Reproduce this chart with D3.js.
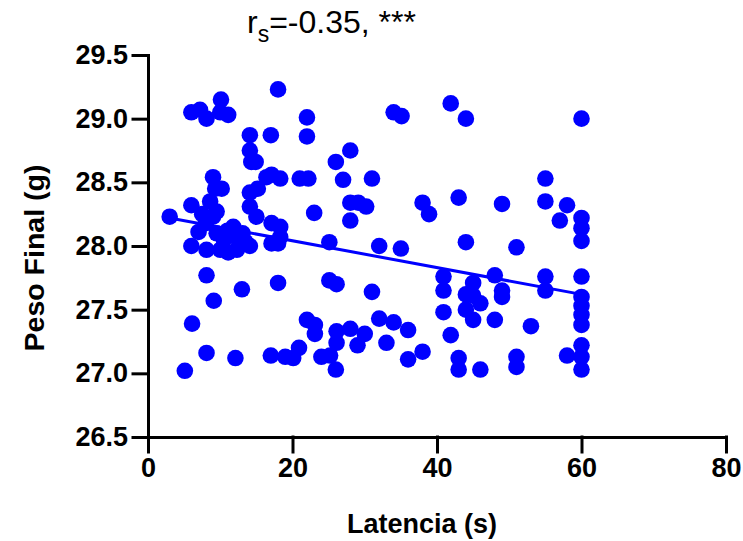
<!DOCTYPE html>
<html lang="en">
<head>
<meta charset="UTF-8">
<script src="https://d3js.org/d3.v7.min.js"></script>
<style>
    body { margin: 0; background: #fff; }
    svg { font-family: "Liberation Sans", Arial, sans-serif; }
    .axis path, .axis line { stroke: #000; stroke-width: 3px; stroke-linecap: square; }
    .axis text { font-size: 27px; font-weight: bold; fill: #000; }
</style>
</head>
<body>
<script>
// Latencia (s) vs Peso Final (g)
var latencia = [
    18.0, 10.1, 6.0, 7.2, 8.1, 11.1, 10.0, 14.1, 17.0, 14.1, 14.3, 14.9, 9.0, 10.2, 9.3,
    14.1, 15.2, 16.4, 17.1, 18.3, 21.0, 22.2, 6.0, 8.6, 14.1, 15.0, 3.0,
    7.0, 9.0, 11.8, 13.1, 17.1, 18.3, 17.1, 18.3, 6.0, 8.1, 10.0, 11.1, 12.3, 14.1, 18.0,
    8.0, 9.5, 10.5, 11.0, 12.5, 13.5, 7.5, 9.5,
    8.1, 13.0, 18.0, 9.1, 6.1, 8.1, 12.1, 17.0, 19.0, 20.1, 20.9, 5.1,
    22.0, 22.0, 28.0, 26.0, 27.0, 31.0, 34.0, 35.1, 41.9, 28.0, 29.1, 30.2, 23.0, 28.0,
    38.0, 38.9, 25.1, 32.0, 35.0, 25.1, 26.1, 31.0, 40.9, 40.9, 40.9, 22.0, 23.1, 23.1,
    26.1, 28.0, 30.0, 26.1, 29.0, 32.0, 34.0, 36.0, 33.0, 24.0, 25.2, 26.0, 36.0, 38.0, 41.9,
    44, 60, 55, 43, 49, 55, 58, 57, 60, 60, 60, 44, 51, 48, 55, 55, 60,
    45, 44, 45, 46, 44, 45, 49, 49, 48, 53, 60, 60, 60, 60, 60, 60, 60, 58,
    43, 43, 46, 51, 51
];
var peso = [
    29.23, 29.15, 29.05, 29.07, 29.0, 29.03, 29.05, 28.87, 28.87, 28.75, 28.66, 28.66, 28.54, 28.45, 28.45,
    28.42, 28.45, 28.54, 28.56, 28.53, 28.53, 28.53, 28.32, 28.35, 28.31, 28.23, 28.23,
    28.11, 28.23, 28.15, 28.1, 28.18, 28.15, 28.02, 28.07, 28.0, 27.97, 27.97, 27.95, 27.97, 28.0, 28.02,
    28.18, 28.1, 28.05, 28.12, 28.05, 28.03, 28.25, 28.27,
    27.77, 27.66, 27.71, 27.57, 27.39, 27.16, 27.12, 27.14, 27.13, 27.12, 27.2, 27.02,
    29.01, 28.86, 28.75, 28.66, 28.52, 28.53, 29.05, 29.02, 29.12, 28.34, 28.34, 28.31, 28.26, 28.2,
    28.34, 28.25, 28.03, 28.0, 27.98, 27.73, 27.7, 27.64, 27.76, 27.65, 27.48, 27.42, 27.38, 27.31,
    27.33, 27.35, 27.31, 27.24, 27.22, 27.43, 27.4, 27.34, 27.24, 27.13, 27.14, 27.03, 27.11, 27.17, 27.3,
    29.0, 29.0, 28.53, 28.38, 28.33, 28.35, 28.32, 28.2, 28.22, 28.14, 28.04, 28.03, 27.99, 27.77, 27.76, 27.65, 27.76,
    27.71, 27.62, 27.61, 27.55, 27.5, 27.42, 27.65, 27.6, 27.42, 27.37, 27.6, 27.53, 27.46, 27.38, 27.22, 27.13, 27.03, 27.14,
    27.12, 27.03, 27.03, 27.13, 27.05
];

// regression line ends
var fitX = [3, 60];
var fitY = [28.22, 27.62];

var xTicks = [0, 20, 40, 60, 80];
var yTicks = [26.5, 27.0, 27.5, 28.0, 28.5, 29.0, 29.5];

var width = 743, height = 541;
var svg = d3.select("body").append("svg")
    .attr("width", width)
    .attr("height", height);

var x = d3.scaleLinear().domain([0, 80]).range([148, 726]);
var y = d3.scaleLinear().domain([26.5, 29.5]).range([437, 55]);

// points
var points = latencia.map(function (d, i) { return { x: d, y: peso[i] }; });
svg.append("g").selectAll("circle")
    .data(points)
    .enter().append("circle")
    .attr("cx", function (d) { return x(d.x); })
    .attr("cy", function (d) { return y(d.y); })
    .attr("r", 8.3)
    .style("fill", "#0000ff");

// fit line
svg.append("line")
    .attr("x1", x(fitX[0])).attr("y1", y(fitY[0]))
    .attr("x2", x(fitX[1])).attr("y2", y(fitY[1]))
    .style("stroke", "#0000ff")
    .style("stroke-width", 3);

// axes
svg.append("g").attr("class", "axis")
    .attr("transform", "translate(0," + y(26.5) + ")")
    .call(d3.axisBottom(x).tickValues(xTicks).tickSize(15).tickSizeOuter(0).tickPadding(6)
        .tickFormat(d3.format("d")));

svg.append("g").attr("class", "axis")
    .attr("transform", "translate(" + x(0) + ",0)")
    .call(d3.axisLeft(y).tickValues(yTicks).tickSize(15).tickSizeOuter(0).tickPadding(5)
        .tickFormat(d3.format(".1f")));

// axis titles
svg.append("text")
    .attr("x", 422).attr("y", 533)
    .attr("text-anchor", "middle")
    .style("font-size", "27px").style("font-weight", "bold")
    .text("Latencia (s)");

svg.append("text")
    .attr("transform", "translate(44,258) rotate(-90)")
    .attr("text-anchor", "middle")
    .style("font-size", "28.5px").style("font-weight", "bold")
    .text("Peso Final (g)");

// title
var title = svg.append("text")
    .attr("x", 247).attr("y", 33)
    .style("font-size", "32px");
title.append("tspan").text("r");
title.append("tspan").attr("dy", 9).style("font-size", "23px").text("s");
title.append("tspan").attr("dy", -9).text("=-0.35, ***");
</script>
</body>
</html>
